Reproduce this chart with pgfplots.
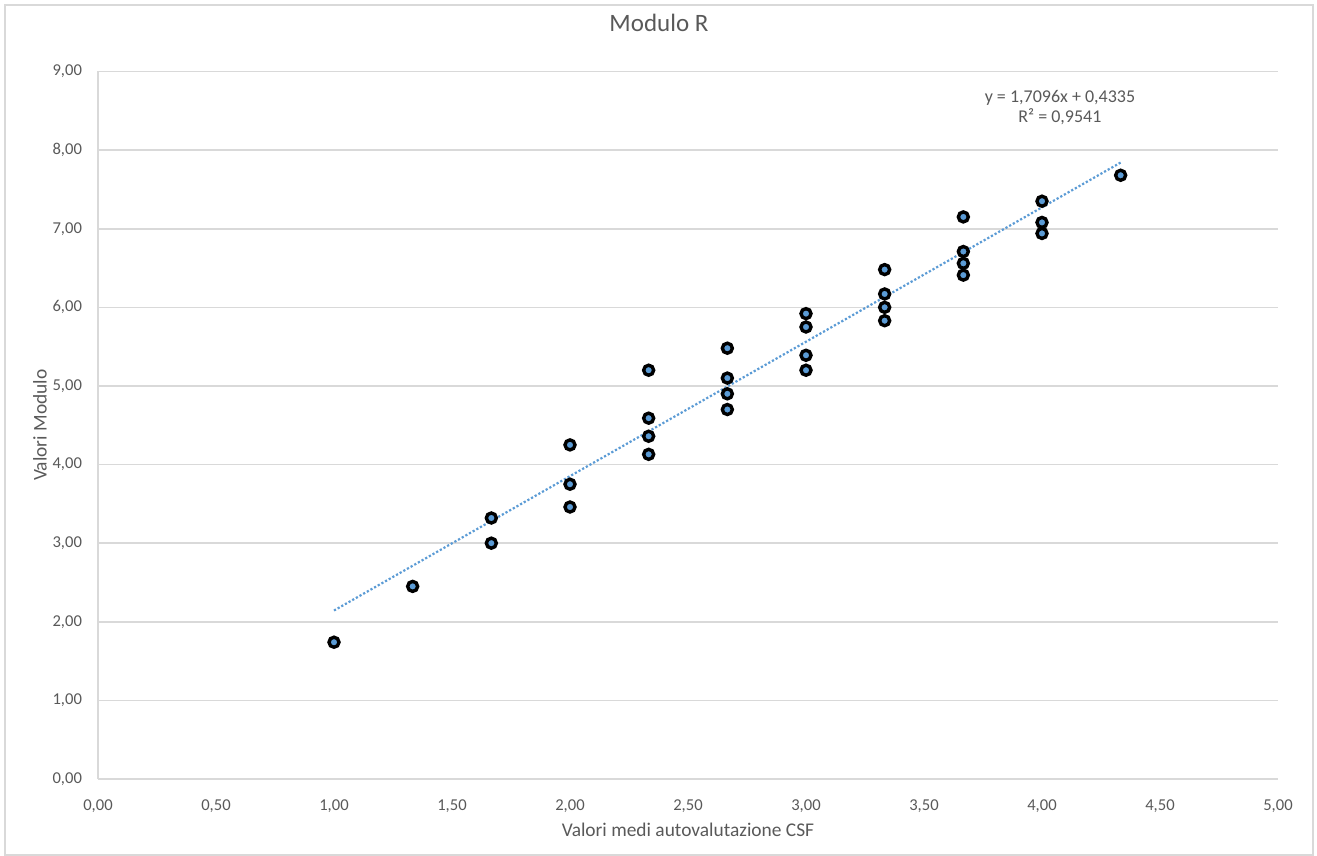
\documentclass[border=0pt]{standalone}
\usepackage{pgfplots}
\pgfplotsset{compat=1.18}
\usepackage{fontspec}
\setmainfont{Carlito}
\definecolor{txt}{HTML}{595959}
\definecolor{gridc}{HTML}{D9D9D9}
\definecolor{mk}{HTML}{5B9BD5}
\begin{document}
\begin{tikzpicture}
\begin{axis}[scale only axis,
  width=590pt, height=353.75pt,
  xmin=0, xmax=5, ymin=0, ymax=9,
  xtick={0,0.5,...,5}, ytick={0,1,...,9},
  axis lines=left, axis line style={draw=gridc, line width=0.8pt, -},
  ymajorgrids, grid style={gridc, line width=0.8pt},
  major tick length=0pt, tick style={draw=none},
  /pgf/number format/.cd, fixed, fixed zerofill, precision=2, use comma, assume math mode=true,
  /pgfplots/.cd,
  xticklabel style={font=\fontsize{8.3}{9}\selectfont, color=txt, yshift=-7pt},
  yticklabel style={font=\fontsize{8.3}{9}\selectfont, color=txt, xshift=-4.5pt},
  xlabel={Valori medi autovalutazione CSF},
  ylabel={Valori Modulo},
  xlabel style={font=\fontsize{9.7}{11}\selectfont, color=txt, at={(axis description cs:0.5,-0.0721)}, anchor=center},
  ylabel style={font=\fontsize{9.7}{11}\selectfont, color=txt, at={(axis description cs:-0.0492,0.5)}, anchor=center},
  title={Modulo R},
  title style={font=\fontsize{12.5}{14}\selectfont, color=txt, at={(axis description cs:0.4754,1.0516)}, anchor=center},
  clip=false]
\addplot[mk, densely dotted, line width=1.1pt] coordinates {(1,2.1431) (4.3333,7.8417)};
\addplot[only marks, mark=*, mark size=2.5pt, mark options={draw=black, fill=mk, line width=1.7pt}] table {
x y
1.0000 1.74
1.3333 2.45
1.6667 3.32
1.6667 3.00
2.0000 4.25
2.0000 3.75
2.0000 3.46
2.3333 5.20
2.3333 4.59
2.3333 4.36
2.3333 4.13
2.6667 5.48
2.6667 5.10
2.6667 4.90
2.6667 4.70
3.0000 5.92
3.0000 5.75
3.0000 5.39
3.0000 5.20
3.3333 6.48
3.3333 6.17
3.3333 6.00
3.3333 5.83
3.6667 7.15
3.6667 6.71
3.6667 6.56
3.6667 6.41
4.0000 7.35
4.0000 7.08
4.0000 6.94
4.3333 7.68
};
\node[font=\fontsize{9}{10}\selectfont, color=txt] at (axis cs:4.076,8.66) {y = 1,7096x + 0,4335};
\node[font=\fontsize{9}{10}\selectfont, color=txt] at (axis cs:4.076,8.42) {R² = 0,9541};
\end{axis}
\draw[gridc, line width=0.6pt] (-46.5pt,-38pt) rectangle (607.5pt,387pt);
\useasboundingbox (-49pt,-38.5pt) rectangle (609.5pt,389.5pt);
\end{tikzpicture}
\end{document}
